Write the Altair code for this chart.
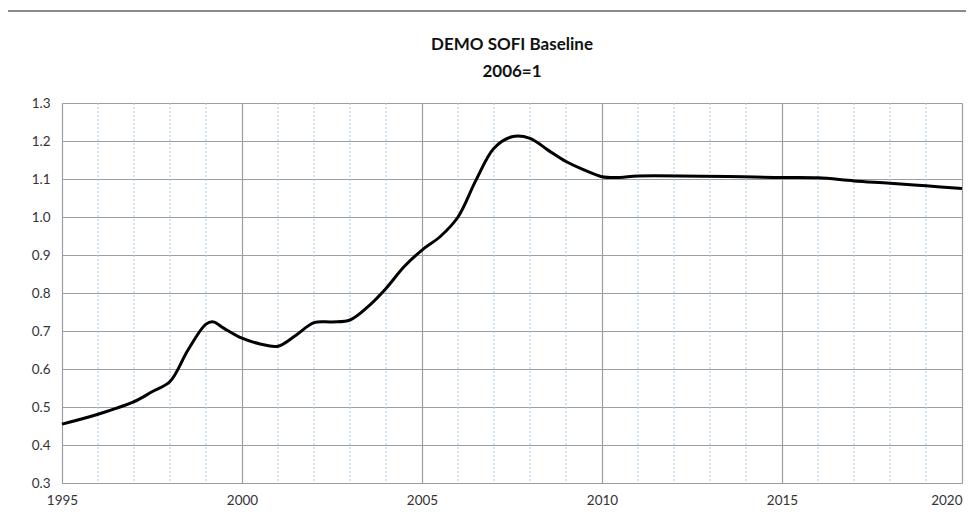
import altair as alt
import pandas as pd

years = [1995, 1996, 1997, 1997.5, 1998, 1998.5, 1999, 1999.2, 1999.5, 2000, 2000.5,
         2001, 2001.5, 2002, 2002.5, 2003, 2003.5, 2004, 2004.5, 2005, 2005.5, 2006,
         2006.5, 2007, 2007.5, 2008, 2008.5, 2009, 2009.5, 2010, 2010.5, 2011, 2015,
         2016, 2017, 2018, 2019, 2020]
values = [0.455, 0.481, 0.514, 0.540, 0.567, 0.650, 0.718, 0.724, 0.707, 0.681, 0.666,
          0.660, 0.689, 0.722, 0.724, 0.729, 0.764, 0.812, 0.869, 0.913, 0.948, 1.000,
          1.097, 1.181, 1.211, 1.207, 1.176, 1.146, 1.124, 1.106, 1.104, 1.108, 1.104,
          1.103, 1.095, 1.089, 1.082, 1.075]

major_years = [1995, 2000, 2005, 2010, 2015, 2020]
minor_years = [y for y in range(1996, 2020) if y % 5 != 0]
y_ticks = [0.3, 0.4, 0.5, 0.6, 0.7, 0.8, 0.9, 1.0, 1.1, 1.2, 1.3]

df = pd.DataFrame({"year": years, "value": values})
minor_df = pd.DataFrame({"year": minor_years})

FONT = "Lato"
GRID = "#9a9ea3"

x_scale = alt.Scale(domain=[1995, 2020], nice=False, zero=False)
y_scale = alt.Scale(domain=[0.3, 1.3], nice=False, zero=False)

minor = alt.Chart(minor_df).mark_rule(
    color="#a9cbe3", strokeWidth=1, strokeDash=[2, 2]
).encode(
    x=alt.X("year:Q", scale=x_scale),
)

line = alt.Chart(df).mark_line(
    color="#000000", strokeWidth=3, interpolate="catmull-rom"
).encode(
    x=alt.X("year:Q", scale=x_scale, title=None,
            axis=alt.Axis(values=major_years, format="d", grid=True, gridColor=GRID,
                          gridWidth=1.2, domain=False, ticks=False, labelPadding=10,
                          labelFontSize=13.5, labelColor="#333333", labelFont=FONT,
                          labelFlush=False, labelOverlap=False,
                          labelAlign=alt.expr("datum.value == 2020 ? 'right' : 'center'"))),
    y=alt.Y("value:Q", scale=y_scale, title=None,
            axis=alt.Axis(values=y_ticks, format=".1f", grid=True, gridColor=GRID,
                          gridWidth=1.2, domain=False, ticks=False, labelPadding=12,
                          labelFontSize=13.5, labelColor="#333333", labelFont=FONT)),
)

frame_top = alt.Chart(df).mark_rule(color="#8a8a8a", strokeWidth=2).encode(
    x=alt.value(-55), x2=alt.value(904), y=alt.value(-92)
)
frame_left = alt.Chart(df).mark_rule(color="#111111", strokeWidth=1.5).encode(
    x=alt.value(-55), y=alt.value(-92), y2=alt.value(428)
)

chart = alt.layer(minor, line, frame_top, frame_left).properties(
    width=900,
    height=380,
    padding={"left": 54, "top": 95, "right": 4, "bottom": 28},
    autosize=alt.AutoSizeParams(type="none"),
    title=alt.TitleParams(
        text="DEMO SOFI Baseline",
        subtitle="2006=1",
        font=FONT, fontSize=17, fontWeight="bold", color="#111111",
        subtitleFont=FONT, subtitleFontSize=17, subtitleFontWeight="bold",
        subtitleColor="#111111", subtitlePadding=10, offset=-71, anchor="middle",
        frame="group",
    ),
).configure_view(
    stroke=GRID, strokeWidth=1.2
).configure(background="white")

chart.save("out.html", embed_options={"renderer": "svg", "actions": False})
